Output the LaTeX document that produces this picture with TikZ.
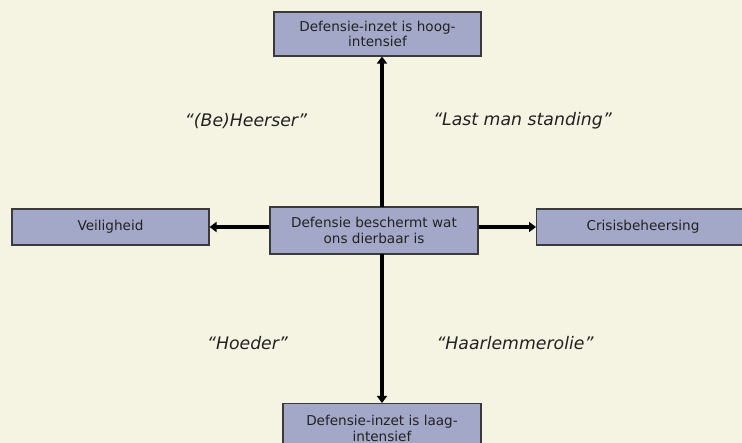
\documentclass[tikz,border=0pt]{standalone}
\usepackage{fontspec}
\setmainfont{DejaVu Sans}
\usetikzlibrary{arrows.meta}
\definecolor{bgc}{HTML}{F5F3E2}
\definecolor{boxc}{HTML}{A3A8C8}
\definecolor{txtc}{HTML}{222222}
\definecolor{bordc}{HTML}{3A3A3A}
\tikzset{
  box/.style={draw=bordc, line width=1.1pt, fill=boxc, text=txtc, font=\fontsize{13.6}{15.8}\selectfont, align=center, inner sep=0pt},
  conn/.style={line width=3.4pt, -{Triangle[length=7pt,width=10pt]}},
  lab/.style={font=\fontsize{17.3}{20}\selectfont\itshape, text=txtc}
}
\begin{document}
\begin{tikzpicture}[x=1pt,y=-1pt]
\useasboundingbox (0,0) rectangle (742,443);
\fill[bgc] (0,0) rectangle (742,443);
\clip (0,0) rectangle (742,443);
\node[box, minimum width=207pt, minimum height=44pt] (top) at (377.5,34) {Defensie-inzet is hoog-\\intensief};
\node[box, minimum width=197pt, minimum height=36pt] (left) at (110.5,227) {Veiligheid};
\node[box, minimum width=208pt, minimum height=47pt] (center) at (374,230.5) {Defensie beschermt wat\\ons dierbaar is};
\node[box, minimum width=213pt, minimum height=36pt, anchor=west] (right) at (536,227) {Crisisbeheersing};
\node[box, minimum width=198pt, minimum height=49pt, anchor=north] (bottom) at (382,403) {Defensie-inzet is laag-\\intensief};
\coordinate (ct) at (382,207);
\coordinate (cb) at (382,254);
\draw[conn] (ct) -- (top.south -| ct);
\draw[conn] (cb) -- (bottom.north -| cb);
\draw[conn] (center.west |- left.east) -- (left.east);
\draw[conn] (center.east |- right.west) -- (right.west);
\node[lab] (l1) at (246,121) {“(Be)Heerser”};
\node[lab] (l2) at (522.5,121) {“Last man standing”};
\node[lab] (l3) at (247.5,343) {“Hoeder”};
\node[lab] (l4) at (515,343) {“Haarlemmerolie”};
\end{tikzpicture}
\end{document}
